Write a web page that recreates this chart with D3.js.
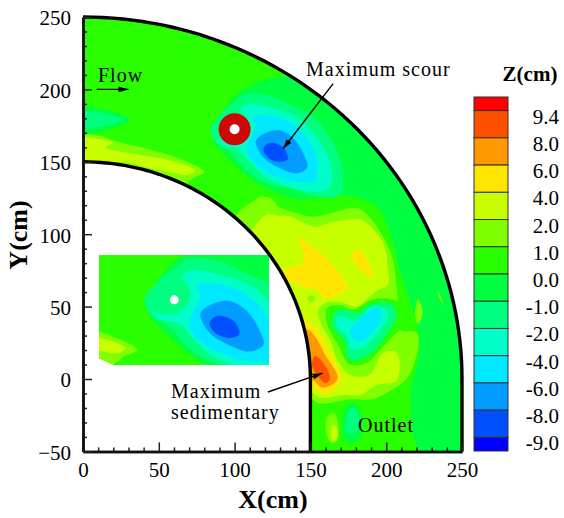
<!DOCTYPE html>
<html>
<head>
<meta charset="utf-8">
<script src="https://cdn.jsdelivr.net/npm/d3@7"></script>
<style>
body { margin: 0; background: #fff; }
text { font-family: "Liberation Serif", serif; fill: #000; }
</style>
</head>
<body>
<div class="container"></div>
<script>
const WIDTH = 564;
const HEIGHT = 518;

// colour bar, top to bottom
const bandColors = ['#ff0000', '#ff5000', '#ff9800', '#ffe600', '#c8ff00', '#80ff00', '#2aff00',
    '#00ff40', '#00ff80', '#00ffc8', '#00e8ff', '#009cff', '#0050ff', '#0000ff'];
const bandLabels = ['9.4', '8.0', '6.0', '4.0', '2.0', '1.0', '0.0', '-1.0', '-2.0', '-4.0', '-6.0', '-8.0', '-9.0'];

const xTicks = [0, 50, 100, 150, 200, 250];
const yTicks = [-50, 0, 50, 100, 150, 200, 250];

// channel geometry (cm)
const innerRadius = 150;
const outerRadius = 250;
const outletEnd = -50;
const pier = [100, 172.5];

// contour regions, as [x, y] in cm
const zeroScour = [[85,168],[98,193],[118,206],[143,208],[173,193],[206,158],[229,110],[247,55],[249,0],[249,-48],[222,-48],[216,-14],[222,27],[209,75],[203,99],[193,120],[170,127],[143,124],[117,134],[97,151]];
const zeroInlet = [[0,187],[15,186],[31,179],[15,172],[0,170]];
const springInlet = [[0,184],[11,184],[26,179],[15,175],[0,174]];
const limeInlet = [[0,168],[11,168],[22,164],[42,159],[64,152],[80,143],[73,139],[64,133],[31,141],[0,144]];
const yellowLimeInlet = [[0,166],[9,166],[20,163],[15,160],[36,155],[57,151],[74,144],[69,141],[62,142],[42,146],[26,150],[0,146]];
const limeMiddle = [[114,124],[118,126],[125,124],[129,119],[140,115],[152,112],[165,115],[181,118],[189,112],[198,98],[204,84],[207,63],[208,48],[209,34],[220,32],[221,22],[214,1],[203,-8],[191,-14],[176,-14],[156,-17],[151,-14],[145,-14],[140,50],[115,88],[100,110]];
const yellowLimeMiddle = [[120,113],[128,113],[137,112],[145,108],[154,105],[163,108],[183,110],[189,106],[198,94],[201,77],[201,65],[194,61],[189,57],[181,50],[170,53],[161,53],[155,47],[158,36],[163,27],[168,13],[176,3],[189,3],[198,18],[207,18],[207,-1],[194,-4],[183,-11],[172,-11],[156,-13],[152,-10],[146,-10],[140,40],[110,95]];
const holeMiddle = [[161,49],[170,51],[178,48],[191,55],[204,55],[211,51],[211,37],[204,29],[195,19],[187,11],[176,10],[168,24],[161,38]];
const springMiddle = [[166,46],[173,48],[181,46],[191,52],[203,52],[207,44],[201,32],[195,23],[186,15],[176,13],[172,27],[165,35]];
const turquoiseMiddle = [[168,43],[173,43],[179,40],[191,50],[200,48],[201,42],[196,34],[185,22],[177,21],[174,30],[167,37]];
const cyanMiddle = [[177,35],[185,44],[194,49],[197,44],[191,32],[182,26],[177,29]];
const yellowMain = [[142,98],[148,94],[161,83],[170,72],[175,63],[168,58],[158,56],[156,61],[148,63],[142,65],[132,70],[132,75],[138,77],[145,80],[145,87]];
const yellowPatch = [[178,88],[184,88],[191,70],[184,74],[178,83]];
const limeDot = [[148,56],[151,58],[153,55],[150,53]];
const yellowSediment = [[143,43],[147,41],[153,36],[161,22],[170,0],[161,-10],[153,-6],[147,-5],[145,30]];
const orangeSediment = [[148,34],[154,28],[159,18],[168,0],[158,-6],[152,-1],[146,-1],[146,28]];
const redSediment = [[153,16],[157,13],[163,1],[160,-3],[155,2],[151,10]];
const limeOutlet = [[162,-25],[166,-24],[168,-42],[164,-44],[160,-35]];
const yellowLimeOutlet = [[165,-32],[168,-35],[167,-42],[164,-42]];
const zeroOutlet = [[172,-23],[178,-17],[184,-25],[182,-42],[174,-44]];
const springOutlet = [[174,-26],[178,-19],[182,-26],[180,-37],[174,-37]];
const limeStreakA = [[234,61],[236,57],[238,51],[235,56]];
const limeStreakB = [[221,55],[224,46],[221,38],[219,46]];
const springScour = [[84,172],[90,182],[100,191],[106,196],[114,197],[125,195],[139,188],[152,181],[165,163],[171,144],[170,128],[162,125],[150,127],[135,132],[119,136],[106,146],[97,157],[88,163]];
const turquoiseScour = [[104,186],[110,190],[125,187],[141,181],[154,167],[164,146],[162,132],[152,129],[137,132],[121,139],[110,150],[102,159],[92,161],[88,165],[100,164],[108,172],[108,180]];
const cyanScour = [[112,181],[123,182],[137,177],[150,163],[155,148],[153,137],[141,136],[125,141],[112,150],[108,159],[114,175]];
const azureScour = [[114,164],[117,168],[129,172],[139,166],[147,152],[148,146],[141,142],[129,146],[119,153]];
const blueScour = [[119,159],[123,163],[132,160],[135,152],[129,150],[122,153]];

// paint order, each region with its colour bar index
const layers = [
    [zeroScour, 7], [zeroInlet, 7], [zeroOutlet, 7],
    [springInlet, 8], [limeInlet, 5], [yellowLimeInlet, 4],
    [limeMiddle, 5], [yellowLimeMiddle, 4], [holeMiddle, 6],
    [springMiddle, 8], [turquoiseMiddle, 9], [cyanMiddle, 10],
    [yellowMain, 3], [yellowPatch, 3], [limeDot, 5],
    [yellowSediment, 3], [orangeSediment, 2], [redSediment, 1],
    [limeOutlet, 5], [yellowLimeOutlet, 4], [springOutlet, 8],
    [limeStreakA, 5], [limeStreakB, 5],
    [springScour, 8], [turquoiseScour, 9], [cyanScour, 10], [azureScour, 11], [blueScour, 12]
];

const svg = d3.select('.container').append('svg')
    .attr('width', WIDTH)
    .attr('height', HEIGHT)
    .style('display', 'block');

// the source picture is a soft scan, so the field gets a small blur
svg.append('filter').attr('id', 'soft')
    .append('feGaussianBlur').attr('stdDeviation', 0.7);

const xScale = d3.scaleLinear().domain([0, 250]).range([83, 462]);
const yScale = d3.scaleLinear().domain([-50, 250]).range([451.4, 17]);

// the inset is the same field, enlarged around the scour hole
const xInset = d3.scaleLinear().domain([59.5, 151]).range([99, 269]);
const yInset = d3.scaleLinear().domain([134, 199]).range([365, 255]);

const arcPoints = function (radius, from, to) {
    return d3.range(0, 61).map(i => {
        const a = from + (to - from) * i / 60;
        return [radius * Math.sin(a), radius * Math.cos(a)];
    });
};

const outerWall = arcPoints(outerRadius, 0, Math.PI / 2).concat([[outerRadius, outletEnd]]);
const innerWall = arcPoints(innerRadius, 0, Math.PI / 2).concat([[innerRadius, outletEnd]]);
const channel = outerWall.concat(innerWall.slice().reverse());

const drawField = function (parent, name, xs, ys) {
    const toPx = d3.line().x(d => xs(d[0])).y(d => ys(d[1]));
    const smooth = d3.line().x(d => xs(d[0])).y(d => ys(d[1])).curve(d3.curveCatmullRomClosed.alpha(0.5));

    svg.append('clipPath').attr('id', name + '-clip')
        .append('path').attr('d', toPx(channel) + 'Z');

    const g = parent.append('g').attr('clip-path', `url(#${name}-clip)`)
        .append('g').attr('filter', 'url(#soft)');
    g.append('path').attr('d', toPx(channel) + 'Z').attr('fill', bandColors[6]);
    g.selectAll('path.band').data(layers)
        .enter().append('path')
        .attr('class', 'band')
        .attr('d', d => smooth(d[0]))
        .attr('fill', d => bandColors[d[1]]);
};

drawField(svg, 'main', xScale, yScale);

svg.append('clipPath').attr('id', 'inset-rect')
    .append('rect').attr('x', 99).attr('y', 255).attr('width', 170).attr('height', 110);
const insetHolder = svg.append('g').attr('clip-path', 'url(#inset-rect)');
drawField(insetHolder, 'inset', xInset, yInset);

insetHolder.append('circle')
    .attr('cx', xInset(pier[0])).attr('cy', yInset(pier[1])).attr('r', 4.5)
    .attr('fill', '#fff');

// pier
svg.append('circle')
    .attr('cx', xScale(pier[0])).attr('cy', yScale(pier[1])).attr('r', 10.5)
    .attr('fill', '#fff').attr('stroke', '#cc0808').attr('stroke-width', 11);

// channel walls
const wallLine = d3.line().x(d => xScale(d[0])).y(d => yScale(d[1]));
svg.selectAll('path.wall').data([outerWall, innerWall])
    .enter().append('path')
    .attr('class', 'wall')
    .attr('d', wallLine)
    .attr('fill', 'none')
    .attr('stroke', '#000')
    .attr('stroke-width', 3.4);

// axes, ticks point into the plot
const xMinor = d3.range(0, 251, 10).filter(v => !xTicks.includes(v));
const yMinor = d3.range(-50, 251, 10).filter(v => !yTicks.includes(v));

const styleAxis = function (g) {
    g.selectAll('.domain').attr('stroke', '#111').attr('stroke-width', 2.5);
    g.selectAll('.tick line').attr('stroke', '#222').attr('stroke-width', 1.5);
    g.selectAll('text').attr('font-size', 21).attr('font-family', '"Liberation Serif", serif');
};

const bottom = svg.append('g').attr('transform', `translate(0, ${yScale(outletEnd)})`);
bottom.append('g').call(d3.axisBottom(xScale).tickValues(xMinor).tickSize(-4).tickFormat('').tickSizeOuter(0)).call(styleAxis);
bottom.append('g').call(d3.axisBottom(xScale).tickValues(xTicks).tickSize(-9).tickPadding(11).tickSizeOuter(0)).call(styleAxis);

const left = svg.append('g').attr('transform', `translate(${xScale(0)}, 0)`);
left.append('g').call(d3.axisLeft(yScale).tickValues(yMinor).tickSize(-4).tickFormat('').tickSizeOuter(0)).call(styleAxis);
left.append('g').call(d3.axisLeft(yScale).tickValues(yTicks).tickSize(-9).tickPadding(12).tickSizeOuter(0)).call(styleAxis)
    .selectAll('text').attr('dy', '.38em');

svg.append('text').attr('x', 273).attr('y', 508).attr('text-anchor', 'middle')
    .attr('font-size', 26).attr('font-weight', 'bold').text('X(cm)');
svg.append('text').attr('transform', 'translate(27, 235) rotate(-90)').attr('text-anchor', 'middle')
    .attr('font-size', 26).attr('font-weight', 'bold').text('Y(cm)');

// colour bar
const barScale = d3.scaleLinear().domain([0, 13]).range([97, 451]);
const barTop = i => barScale(i === 0 ? 0 : i - 0.5);
const barBottom = i => barScale(i === 13 ? 13 : i + 0.5);

svg.selectAll('rect.band').data(bandColors)
    .enter().append('rect')
    .attr('class', 'band')
    .attr('x', 474).attr('width', 34)
    .attr('y', (d, i) => barTop(i))
    .attr('height', (d, i) => barBottom(i) - barTop(i))
    .attr('fill', d => d)
    .attr('stroke', '#333').attr('stroke-width', 1);

svg.selectAll('text.band').data(bandLabels)
    .enter().append('text')
    .attr('class', 'band')
    .attr('x', 559).attr('text-anchor', 'end')
    .attr('y', (d, i) => barScale(i + 0.5) + 13)
    .attr('font-size', 21)
    .text(d => d);

svg.append('text').attr('x', 530).attr('y', 81).attr('text-anchor', 'middle')
    .attr('font-size', 21).attr('font-weight', 'bold').text('Z(cm)');

// annotations
svg.append('defs').append('marker').attr('id', 'head')
    .attr('viewBox', '0 0 10 6').attr('refX', 10).attr('refY', 3)
    .attr('markerWidth', 10).attr('markerHeight', 6).attr('markerUnits', 'userSpaceOnUse')
    .attr('orient', 'auto')
    .append('path').attr('d', 'M0,0L10,3L0,6Z').attr('fill', '#000');

const notes = [
    { text: 'Flow', x: 98, y: 82 },
    { text: 'Maximum scour', x: 306, y: 76 },
    { text: 'Maximum', x: 171, y: 398 },
    { text: 'sedimentary', x: 171, y: 419 },
    { text: 'Outlet', x: 358, y: 432 }
];
svg.selectAll('text.note').data(notes)
    .enter().append('text')
    .attr('class', 'note')
    .attr('x', d => d.x).attr('y', d => d.y)
    .attr('font-size', 20).attr('letter-spacing', 1)
    .text(d => d.text);

const arrows = [
    [[9, 200], [30, 200]],
    [[165, 204], [132, 159]],
    [[122, -9], [158, 4]]
];
svg.selectAll('line.arrow').data(arrows)
    .enter().append('line')
    .attr('class', 'arrow')
    .attr('x1', d => xScale(d[0][0])).attr('y1', d => yScale(d[0][1]))
    .attr('x2', d => xScale(d[1][0])).attr('y2', d => yScale(d[1][1]))
    .attr('stroke', '#000').attr('stroke-width', 1.4)
    .attr('marker-end', 'url(#head)');
</script>
</body>
</html>
